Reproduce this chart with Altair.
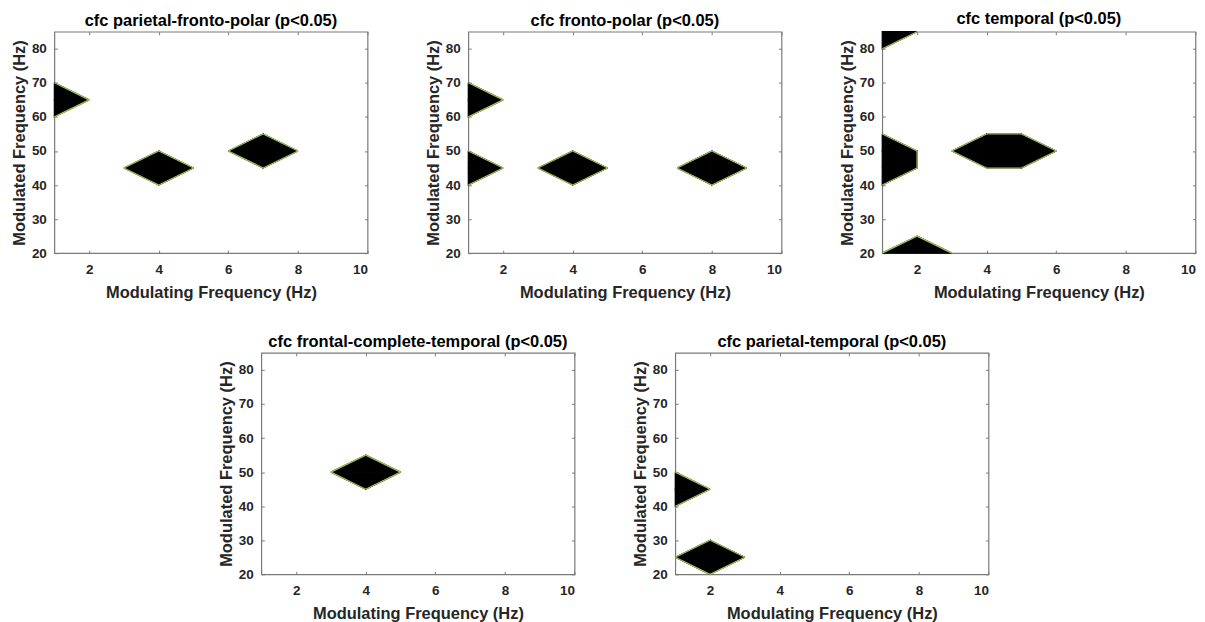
import altair as alt
import pandas as pd

# grid on which the significance map was evaluated
X_GRID = [1, 2, 3, 4, 5, 6, 7, 8, 9, 10]
Y_GRID = [20, 25, 30, 35, 40, 45, 50, 55, 60, 65, 70, 75, 80, 85]

X_TICKS = [2, 4, 6, 8, 10]
Y_TICKS = [20, 30, 40, 50, 60, 70, 80]

TITLES = [
    "cfc parietal-fronto-polar (p<0.05)",
    "cfc fronto-polar (p<0.05)",
    "cfc temporal (p<0.05)",
    "cfc frontal-complete-temporal (p<0.05)",
    "cfc parietal-temporal (p<0.05)",
]

# significant (modulating, modulated) grid cells per panel
SIG_X_1 = [1, 4, 7]
SIG_Y_1 = [65, 45, 50]
SIG_X_2 = [1, 1, 4, 8]
SIG_Y_2 = [65, 45, 45, 45]
SIG_X_3 = [1, 1, 1, 2, 4, 5]
SIG_Y_3 = [85, 45, 50, 20, 50, 50]
SIG_X_4 = [4]
SIG_Y_4 = [50]
SIG_X_5 = [1, 2]
SIG_Y_5 = [45, 25]

SIGS = [(SIG_X_1, SIG_Y_1), (SIG_X_2, SIG_Y_2), (SIG_X_3, SIG_Y_3),
        (SIG_X_4, SIG_Y_4), (SIG_X_5, SIG_Y_5)]

FONT = "Liberation Sans"
AX = "#7a7a7a"
TXT = "#262626"
EDGE = "#a3c45a"


def contour(sx, sy):
    """marching squares of the binary map at a level just above zero"""
    on = set(zip(sx, sy))
    pieces, segs = [], []
    for i in range(len(X_GRID) - 1):
        for j in range(len(Y_GRID) - 1):
            x0, x1 = X_GRID[i], X_GRID[i + 1]
            y0, y1 = Y_GRID[j], Y_GRID[j + 1]
            corners = [(x0, y0), (x1, y0), (x1, y1), (x0, y1)]
            v = [c in on for c in corners]
            n = sum(v)
            if n == 0:
                continue
            if n == 1:
                k = v.index(True)
                pieces.append([corners[k - 1], corners[k], corners[(k + 1) % 4]])
                segs.append((corners[k - 1], corners[(k + 1) % 4]))
            else:
                pieces.append(corners)
                if n == 2:
                    idx = [t for t in range(4) if v[t]]
                    if idx[1] - idx[0] in (1, 3):
                        zeros = [c for c, b in zip(corners, v) if not b]
                        segs.append((zeros[0], zeros[1]))
    return pieces, segs


W, H = 314, 222


def panel(i):
    sx, sy = SIGS[i]
    pieces, segs = contour(sx, sy)
    rows = []
    for p, poly in enumerate(pieces):
        for k, (x, y) in enumerate(poly + [poly[0]]):
            rows.append({"pid": p, "k": k, "x": x, "y": y})
    fill_df = pd.DataFrame(rows)
    seg_df = pd.DataFrame([{"x": a[0], "y": a[1], "x2": b[0], "y2": b[1]} for a, b in segs])

    xs = alt.Scale(domain=[1, 10], nice=False, zero=False)
    ys = alt.Scale(domain=[20, 85], nice=False, zero=False)

    fill = alt.Chart(fill_df).mark_line(
        color="black", fill="black", strokeWidth=1.2
    ).encode(
        x=alt.X("x:Q", scale=xs, axis=alt.Axis(
            orient="bottom", values=X_TICKS, title="Modulating Frequency (Hz)",
            offset=-3, tickSize=3, domain=False, grid=False, labelPadding=9,
            titlePadding=9)),
        y=alt.Y("y:Q", scale=ys, axis=alt.Axis(
            orient="left", values=Y_TICKS, title="Modulated Frequency (Hz)",
            offset=-3, tickSize=3, domain=False, grid=False, labelPadding=8,
            titlePadding=4)),
        detail="pid:N",
        order="k:Q",
    )

    lines = alt.Chart(seg_df).mark_rule(color=EDGE, strokeWidth=1.2).encode(
        x=alt.X("x:Q", scale=xs, axis=alt.Axis(
            orient="top", values=X_TICKS, labels=False, title="",
            offset=-3, tickSize=3, domain=False, grid=False,
            labelPadding=0, titlePadding=0)),
        x2="x2:Q",
        y=alt.Y("y:Q", scale=ys, axis=alt.Axis(
            orient="right", values=Y_TICKS, labels=False, title="",
            offset=-3, tickSize=3, domain=False, grid=False,
            labelPadding=0, titlePadding=0)),
        y2="y2:Q",
    )

    return alt.layer(
        fill, lines,
        title=alt.TitleParams(TITLES[i], anchor="middle", frame="group",
                              fontSize=16.5, font=FONT, fontWeight="bold",
                              color="black", offset=2),
    ).resolve_axis(x="independent", y="independent").properties(width=W, height=H)


top = alt.hconcat(panel(0), panel(1), panel(2), spacing=55)
bottom = alt.hconcat(panel(3), panel(4), spacing=55)

chart = alt.vconcat(top, bottom, spacing=31, center=True).properties(
    padding={"left": 2, "top": 1, "right": 0, "bottom": 0},
    background="white",
).configure_view(
    stroke=AX, strokeWidth=1.2
).configure_axis(
    labelFont=FONT, labelFontSize=13.5, labelFontWeight="bold", labelColor=TXT,
    titleFont=FONT, titleFontSize=16.5, titleFontWeight="bold", titleColor=TXT,
    tickColor=AX, tickWidth=1,
)

chart.save("out.html", embed_options={"renderer": "svg", "actions": False})
